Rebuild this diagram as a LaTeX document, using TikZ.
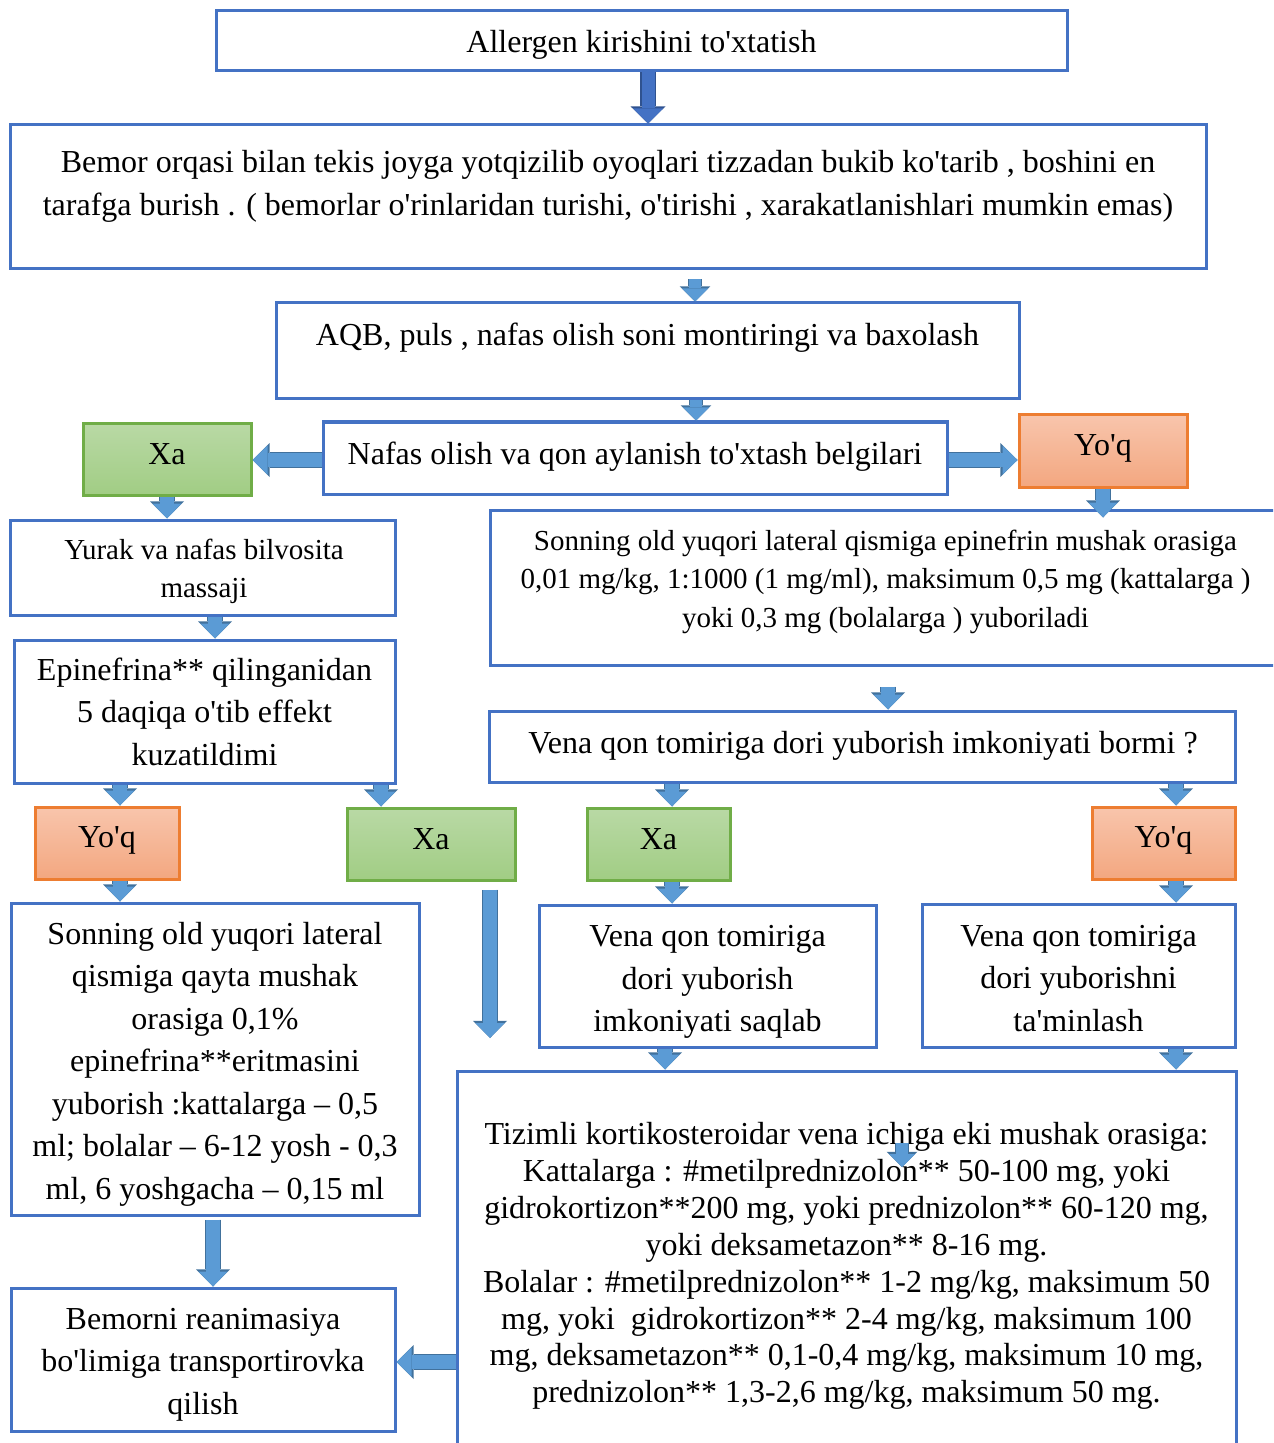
\documentclass[tikz,border=0pt]{standalone}
\usepackage{fontspec}
\setmainfont{Liberation Serif}
\usetikzlibrary{arrows.meta}

\definecolor{boxblue}{RGB}{68,114,196}
\definecolor{arrowfill}{RGB}{91,155,213}
\definecolor{arrowedge}{RGB}{65,113,156}
\definecolor{arrowdark}{RGB}{68,114,196}
\definecolor{arrowdarkedge}{RGB}{47,82,143}
\definecolor{xagreentop}{RGB}{185,217,165}
\definecolor{xagreenbot}{RGB}{161,205,132}
\definecolor{xagreenedge}{RGB}{112,173,71}
\definecolor{yoqtop}{RGB}{248,197,172}
\definecolor{yoqbot}{RGB}{243,167,128}
\definecolor{yoqedge}{RGB}{237,125,49}

\newcommand{\apos}{\textquotesingle}

\tikzset{
  box/.style={draw=boxblue, line width=1.5pt, fill=white, inner sep=0pt, align=center, font=\fontsize{16}{21.25}\selectfont},
  xabox/.style={box, draw=xagreenedge, top color=xagreentop, bottom color=xagreenbot},
  yoqbox/.style={box, draw=yoqedge, top color=yoqtop, bottom color=yoqbot},
  txt/.style={inner sep=0pt, align=center, font=\fontsize{16}{21.25}\selectfont},
  smalltext/.style={font=\fontsize{14.5}{19.25}\selectfont},
  textdown/.style={execute at begin node={\rule{0pt}{#1}}},
  barrow/.style={draw=arrowfill, line width=7pt, -{Triangle[length=7.5pt,width=14.5pt,line width=0pt]},
    preaction={draw=arrowedge, line width=8.4pt, -{Triangle[length=8.6pt,width=17pt,line width=0pt]}}},
  barrowsmall/.style={draw=arrowfill, line width=6pt, -{Triangle[length=6.5pt,width=13pt,line width=0pt]},
    preaction={draw=arrowedge, line width=7.4pt, -{Triangle[length=7.6pt,width=15.4pt,line width=0pt]}}},
  barrowdark/.style={draw=arrowdark, line width=6.5pt, -{Triangle[length=7.5pt,width=15pt,line width=0pt]},
    preaction={draw=arrowdarkedge, line width=8pt, -{Triangle[length=8.6pt,width=17.5pt,line width=0pt]}}},
}

\begin{document}
\begin{tikzpicture}[x=0.5pt,y=-0.5pt]
\useasboundingbox (0,0) rectangle (1273,1443);
\clip (0,0) rectangle (1273,1443);

% top of the chart
\node[box, textdown=15pt, minimum width=425.5pt, minimum height=30pt] (allergen) at (641.5,41) {Allergen kirishini to\apos xtatish};

\node[box, minimum width=598pt, minimum height=72pt] (bemor) at (608,197) {};
\node[txt, font=\fontsize{16}{21.5}\selectfont] (bemortext) at (608,186) {Bemor orqasi bilan tekis joyga yotqizilib oyoqlari tizzadan bukib ko\apos tarib , boshini en\\tarafga burish . ( bemorlar o\apos rinlaridan turishi, o\apos tirishi , xarakatlanishlari mumkin emas)};

\node[box, minimum width=371.5pt, minimum height=48pt] (aqb) at (647.5,351) {};
\node[txt] (aqbtext) at (647.5,338) {AQB, puls , nafas olish soni montiringi va baxolash};

\node[box, minimum width=312pt, minimum height=36pt] (nafas) at (635,458) {};
\node[txt] (nafastext) at (635,457) {Nafas olish va qon aylanish to\apos xtash belgilari};

\node[xabox, minimum width=84pt, minimum height=36pt] (xaone) at (167,459) {};
\node[txt] (xaonetext) at (167,454) {Xa};
\node[yoqbox, minimum width=84pt, minimum height=36pt] (yoqone) at (1103,451) {};
\node[txt] (yoqonetext) at (1103,448) {Yo\apos q};

% left branch
\node[box, minimum width=192.5pt, minimum height=47.5pt] (yurak) at (202.5,567.5) {};
\node[txt, smalltext] (yuraktext) at (204,571.5) {Yurak va nafas bilvosita\\massaji};
\node[box, minimum width=190.5pt, minimum height=71.5pt] (epi) at (204.5,711.5) {Epinefrina** qilinganidan\\5 daqiqa o\apos tib effekt\\kuzatildimi};

\node[yoqbox, minimum width=72pt, minimum height=36pt] (yoqtwo) at (107,843) {};
\node[txt] (yoqtwotext) at (107,840) {Yo\apos q};
\node[xabox, minimum width=84pt, minimum height=36pt] (xatwo) at (431,844) {};
\node[txt] (xatwotext) at (431,839) {Xa};

\node[box, minimum width=204pt, minimum height=156pt] (sontwo) at (215,1059) {};
\node[txt] (sontwotext) at (215,1064) {Sonning old yuqori lateral\\qismiga qayta mushak\\orasiga 0,1\%\\epinefrina**eritmasini\\yuborish :kattalarga – 0,5\\ml; bolalar – 6-12 yosh - 0,3\\ml, 6 yoshgacha – 0,15 ml};

\node[box, minimum width=192pt, minimum height=71.5pt] (reanim) at (203,1359.5) {};
\node[txt] (reanimtext) at (203,1364.5) {Bemorni reanimasiya\\bo\apos limiga transportirovka\\qilish};

% right branch
\node[box, minimum width=395.5pt, minimum height=77.5pt] (sonone) at (885.5,587.5) {};
\node[txt, smalltext] (sononetext) at (885.5,581.5) {Sonning old yuqori lateral qismiga epinefrin mushak orasiga\\0,01 mg/kg, 1:1000 (1 mg/ml), maksimum 0,5 mg (kattalarga )\\yoki 0,3 mg (bolalarga ) yuboriladi};

\node[box, minimum width=373pt, minimum height=35.5pt] (vena) at (862,746.5) {};
\node[txt] (venatext) at (863,746) {Vena qon tomiriga dori yuborish imkoniyati bormi ?};

\node[xabox, minimum width=71.5pt, minimum height=36pt] (xathree) at (658.5,844) {};
\node[txt] (xathreetext) at (658.5,839) {Xa};
\node[yoqbox, minimum width=71.5pt, minimum height=36pt] (yoqthree) at (1163.5,843) {};
\node[txt] (yoqthreetext) at (1163.5,840) {Yo\apos q};

\node[box, minimum width=168.5pt, minimum height=71pt] (saqlab) at (707.5,976) {};
\node[txt] (saqlabtext) at (707.5,982) {Vena qon tomiriga\\dori yuborish\\imkoniyati saqlab};
\node[box, minimum width=156.5pt, minimum height=71.5pt] (taminlash) at (1078.5,975.5) {};
\node[txt] (taminlashtext) at (1078.5,978.5) {Vena qon tomiriga\\dori yuborishni\\ta\apos minlash};

\node[box, minimum width=389.5pt, minimum height=191pt] (tizimli) at (846.5,1262) {};
\node[txt, font=\fontsize{16}{18.45}\selectfont] (tizimlitext) at (846.5,1266) {Tizimli kortikosteroidar vena ichiga eki mushak orasiga:\\Kattalarga : \#metilprednizolon** 50-100 mg, yoki\\gidrokortizon**200 mg, yoki prednizolon** 60-120 mg,\\yoki deksametazon** 8-16 mg.\\Bolalar : \#metilprednizolon** 1-2 mg/kg, maksimum 50\\mg, yoki\ \ gidrokortizon** 2-4 mg/kg, maksimum 100\\mg, deksametazon** 0,1-0,4 mg/kg, maksimum 10 mg,\\prednizolon** 1,3-2,6 mg/kg, maksimum 50 mg.};

\coordinate (xaend) at (490,1038);
\coordinate (straytop) at (902,1143);
\coordinate (straytip) at (902,1167);

% block arrows
\draw[barrowdark] (allergen.south -| 648,0) -- (bemor.north -| 648,0);
\draw[barrowsmall, shorten <=4.5pt] (bemor.south -| 695,0) -- (aqb.north -| 695,0);
\draw[barrowsmall] (aqb.south -| 696,0) -- (nafas.north -| 696,0);
\draw[barrow] (nafas.west |- 0,460) -- (xaone.east |- 0,460);
\draw[barrow] (nafas.east |- 0,460) -- (yoqone.west |- 0,460);
\draw[barrow, shorten >=-4.5pt] (yoqone.south -| 1103,0) -- (sonone.north -| 1103,0);
\draw[barrow] (xaone.south -| 167,0) -- (yurak.north -| 167,0);
\draw[barrow] (yurak.south -| 215,0) -- (epi.north -| 215,0);
\draw[barrow, shorten <=10pt] (sonone.south -| 888,0) -- (vena.north -| 888,0);
\draw[barrow] (epi.south -| 120,0) -- (yoqtwo.north -| 120,0);
\draw[barrow] (epi.south -| 381,0) -- (xatwo.north -| 381,0);
\draw[barrow] (vena.south -| 672,0) -- (xathree.north -| 672,0);
\draw[barrow] (vena.south -| 1176,0) -- (yoqthree.north -| 1176,0);
\draw[barrow] (yoqtwo.south -| 120,0) -- (sontwo.north -| 120,0);
\draw[barrow, shorten <=4pt] (xatwo.south -| 490,0) -- (xaend);
\draw[barrow] (xathree.south -| 672,0) -- (saqlab.north -| 672,0);
\draw[barrow] (yoqthree.south -| 1176,0) -- (taminlash.north -| 1176,0);
\draw[barrow] (saqlab.south -| 665,0) -- (tizimli.north -| 665,0);
\draw[barrow] (taminlash.south -| 1176,0) -- (tizimli.north -| 1176,0);
\draw[barrow, shorten <=1.5pt] (sontwo.south -| 213,0) -- (reanim.north -| 213,0);
\draw[barrow] (tizimli.west |- 0,1362) -- (reanim.east |- 0,1362);
\draw[barrowsmall] (straytop) -- (straytip);

\end{tikzpicture}
\end{document}
